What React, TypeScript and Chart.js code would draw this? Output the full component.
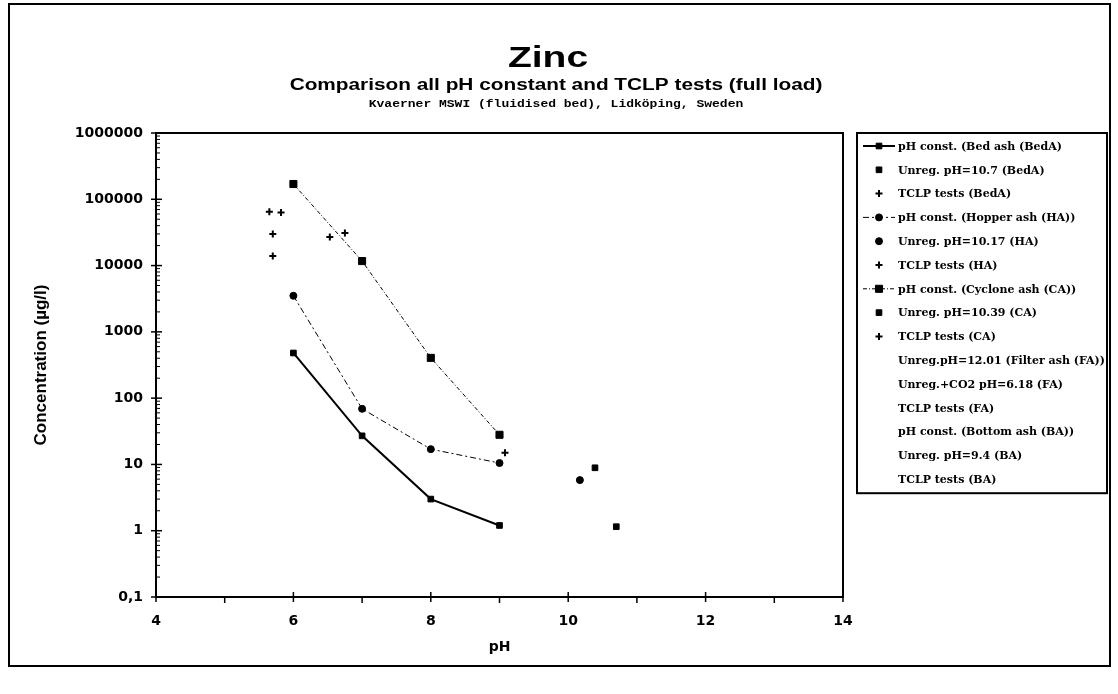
import React, { useEffect, useRef } from "react";
import { Chart, registerables } from "chart.js";
import { drawPoint } from "chart.js/helpers";

Chart.register(...registerables);

// ---- data (pH, concentration µg/l) ----
const bedConstPH = [6, 7, 8, 9];
const bedConstVal = [480, 27, 3.0, 1.2];
const bedUnregPH = [10.7];
const bedUnregVal = [1.15];
const bedTclpPH = [9.08];
const bedTclpVal = [15];

const haConstPH = [6, 7, 8, 9];
const haConstVal = [3500, 69, 17, 10.5];
const haUnregPH = [10.17];
const haUnregVal = [5.8];
const haTclpPH = [6.53, 6.75];
const haTclpVal = [27000, 31000];

const caConstPH = [6, 7, 8, 9];
const caConstVal = [170000, 11700, 405, 28];
const caUnregPH = [10.39];
const caUnregVal = [8.9];
const caTclpPH = [5.65, 5.82, 5.7, 5.7];
const caTclpVal = [65000, 63000, 30000, 14000];

const xTickValues = [4, 6, 8, 10, 12, 14];
const yTickValues = [0.1, 1, 10, 100, 1000, 10000, 100000, 1000000];
const yTickLabels = ["0,1", "1", "10", "100", "1000", "10000", "100000", "1000000"];

const legendLabels = [
  "pH const. (Bed ash (BedA)",
  "Unreg. pH=10.7 (BedA)",
  "TCLP tests (BedA)",
  "pH const. (Hopper ash (HA))",
  "Unreg. pH=10.17 (HA)",
  "TCLP tests (HA)",
  "pH const. (Cyclone ash (CA))",
  "Unreg. pH=10.39 (CA)",
  "TCLP tests (CA)",
  "Unreg.pH=12.01 (Filter ash (FA))",
  "Unreg.+CO2 pH=6.18 (FA)",
  "TCLP tests (FA)",
  "pH const. (Bottom ash (BA))",
  "Unreg. pH=9.4 (BA)",
  "TCLP tests (BA)",
];

const titleText = "Zinc";
const subtitleText = "Comparison all pH constant and TCLP tests (full load)";
const sourceText = "Kvaerner MSWI (fluidised bed), Lidköping, Sweden";

const pts = (xs: number[], ys: number[]) => xs.map((x, i) => ({ x, y: ys[i] }));

const SANS = "'DejaVu Sans', sans-serif";
const ARIAL = "'Liberation Sans', Arial, sans-serif";

function stretchedText(ctx: CanvasRenderingContext2D, text: string, cx: number, cy: number, font: string, sx: number) {
  ctx.save();
  ctx.translate(cx, cy);
  ctx.scale(sx, 1);
  ctx.font = font;
  ctx.textAlign = "center";
  ctx.textBaseline = "middle";
  ctx.fillText(text, 0, 0);
  ctx.restore();
}

const decorPlugin = {
  id: "decor",
  afterDraw(chart: any) {
    const ctx = chart.ctx as CanvasRenderingContext2D;
    const { left, right, top, bottom } = chart.chartArea;
    const xs = chart.scales.x;
    const ys = chart.scales.y;
    ctx.save();
    ctx.strokeStyle = "#000";
    ctx.fillStyle = "#000";

    // outer frame
    ctx.lineWidth = 2;
    ctx.strokeRect(9, 4, 1101, 662);

    // plot box
    ctx.lineWidth = 2;
    ctx.strokeRect(left, top, right - left, bottom - top);

    // x ticks
    ctx.lineWidth = 1.5;
    for (let v = 4; v <= 14; v++) {
      const px = xs.getPixelForValue(v);
      ctx.beginPath();
      if (v % 2 === 0) {
        ctx.moveTo(px, bottom - 5);
        ctx.lineTo(px, bottom + 5);
      } else {
        ctx.moveTo(px, bottom);
        ctx.lineTo(px, bottom + 6);
      }
      ctx.stroke();
    }
    // y ticks
    for (let e = -1; e <= 6; e++) {
      const base = Math.pow(10, e);
      const py = ys.getPixelForValue(base);
      ctx.lineWidth = 1.5;
      ctx.beginPath();
      ctx.moveTo(left - 5, py);
      ctx.lineTo(left + 6, py);
      ctx.stroke();
      if (e < 6) {
        ctx.lineWidth = 1;
        for (let k = 2; k <= 9; k++) {
          const p = ys.getPixelForValue(k * base);
          ctx.beginPath();
          ctx.moveTo(left, p);
          ctx.lineTo(left + 4, p);
          ctx.stroke();
        }
      }
    }

    // titles
    ctx.fillStyle = "#000";
    stretchedText(ctx, titleText, 548, 59, `bold 30px ${ARIAL}`, 1.3);
    stretchedText(ctx, subtitleText, 556, 86, `bold 16px ${ARIAL}`, 1.3);
    stretchedText(ctx, sourceText, 556, 104, `bold 10px 'Liberation Mono', 'DejaVu Sans Mono', monospace`, 1.3);

    // legend
    const bx0 = 857, by0 = 133, bx1 = 1107;
    const rowY0 = 146, rowH = 23.8;
    const n = chart.data.datasets.length;
    const by1 = rowY0 + (n - 1) * rowH + 14;
    ctx.lineWidth = 2;
    ctx.strokeRect(bx0, by0, bx1 - bx0, by1 - by0);
    ctx.textAlign = "left";
    ctx.textBaseline = "middle";
    ctx.font = `bold 11px 'DejaVu Serif', serif`;
    chart.data.datasets.forEach((ds: any, i: number) => {
      const y = rowY0 + i * rowH;
      const lx0 = 863, lx1 = 895, mx = 879;
      if (ds.showLine) {
        ctx.save();
        ctx.lineWidth = ds.borderWidth;
        ctx.setLineDash(ds.borderDash || []);
        ctx.beginPath();
        ctx.moveTo(lx0, y);
        ctx.lineTo(lx1, y);
        ctx.stroke();
        ctx.restore();
      }
      if (ds.pointRadius > 0) {
        ctx.save();
        ctx.fillStyle = "#000";
        ctx.strokeStyle = "#000";
        ctx.lineWidth = ds.pointBorderWidth || 1;
        drawPoint(ctx, { pointStyle: ds.pointStyle, radius: ds.pointRadius, rotation: 0, borderWidth: ds.pointBorderWidth || 1 } as any, mx, y);
        ctx.restore();
      }
      ctx.fillStyle = "#000";
      ctx.fillText(ds.label, 898, y + 1);
    });
    ctx.restore();
  },
};

export default function App() {
  const canvasRef = useRef<HTMLCanvasElement | null>(null);

  useEffect(() => {
    const canvas = canvasRef.current;
    if (!canvas) return;
    const black = "#000";
    const lineDs = (label: string, data: any[], dash: number[], width: number, style: string, r: number) => ({
      label,
      data,
      showLine: true,
      borderColor: black,
      backgroundColor: black,
      pointBackgroundColor: black,
      pointBorderColor: black,
      borderWidth: width,
      borderDash: dash,
      pointStyle: style,
      pointRadius: r,
      pointBorderWidth: 1,
      tension: 0,
    });
    const pointDs = (label: string, data: any[], style: string, r: number, bw: number) => ({
      label,
      data,
      showLine: false,
      borderColor: black,
      backgroundColor: black,
      pointBackgroundColor: black,
      pointBorderColor: black,
      borderWidth: bw,
      pointStyle: style,
      pointRadius: r,
      pointBorderWidth: bw,
    });

    const chart = new Chart(canvas, {
      type: "line",
      data: {
        datasets: [
          lineDs(legendLabels[0], pts(bedConstPH, bedConstVal), [], 2, "rect", 4),
          pointDs(legendLabels[1], pts(bedUnregPH, bedUnregVal), "rect", 4, 1),
          pointDs(legendLabels[2], pts(bedTclpPH, bedTclpVal), "cross", 3.5, 2),
          lineDs(legendLabels[3], pts(haConstPH, haConstVal), [6, 3, 2, 3], 1, "circle", 3.5),
          pointDs(legendLabels[4], pts(haUnregPH, haUnregVal), "circle", 3.5, 1),
          pointDs(legendLabels[5], pts(haTclpPH, haTclpVal), "cross", 3.5, 2),
          lineDs(legendLabels[6], pts(caConstPH, caConstVal), [4, 2, 1, 2], 1, "rect", 5),
          pointDs(legendLabels[7], pts(caUnregPH, caUnregVal), "rect", 4, 1),
          pointDs(legendLabels[8], pts(caTclpPH, caTclpVal), "cross", 3.5, 2),
          pointDs(legendLabels[9], [], "circle", 0, 0),
          pointDs(legendLabels[10], [], "circle", 0, 0),
          pointDs(legendLabels[11], [], "circle", 0, 0),
          pointDs(legendLabels[12], [], "circle", 0, 0),
          pointDs(legendLabels[13], [], "circle", 0, 0),
          pointDs(legendLabels[14], [], "circle", 0, 0),
        ] as any,
      },
      options: {
        responsive: false,
        animation: false,
        layout: { padding: { left: 0, top: 133, right: 275, bottom: 30 } },
        plugins: {
          legend: { display: false },
          tooltip: { enabled: false },
          title: { display: false },
        },
        scales: {
          x: {
            type: "linear",
            min: 4,
            max: 14,
            afterBuildTicks: (s: any) => {
              s.ticks = xTickValues.map((v) => ({ value: v }));
            },
            afterFit: (s: any) => {
              s.height = 67;
            },
            ticks: {
              padding: 16,
              color: black,
              font: { family: SANS, weight: "bold", size: 14 },
              callback: (v: any) => String(v),
            },
            grid: { display: false, drawTicks: false, tickLength: 0 },
            border: { display: false },
            title: {
              display: true,
              text: "pH",
              color: black,
              font: { family: SANS, weight: "bold", size: 14 },
              padding: { top: 0, bottom: 8 },
            },
          },
          y: {
            type: "logarithmic",
            min: 0.1,
            max: 1000000,
            afterBuildTicks: (s: any) => {
              s.ticks = yTickValues.map((v) => ({ value: v }));
            },
            afterFit: (s: any) => {
              s.width = 156;
            },
            ticks: {
              autoSkip: false,
              padding: 13,
              color: black,
              font: { family: SANS, weight: "bold", size: 14 },
              callback: (v: any) => {
                const idx = yTickValues.findIndex((t) => Math.abs(Math.log10(t) - Math.log10(v)) < 1e-9);
                return idx >= 0 ? yTickLabels[idx] : "";
              },
            },
            grid: { display: false, drawTicks: false, tickLength: 0 },
            border: { display: false },
            title: {
              display: true,
              text: "Concentration (µg/l)",
              color: black,
              font: { family: ARIAL, weight: "bold", size: 17 },
              padding: { top: 31, bottom: 0 },
            },
          },
        },
      } as any,
      plugins: [decorPlugin],
    });
    return () => chart.destroy();
  }, []);

  return (
    <div style={{ position: "absolute", left: 0, top: 0, width: 1118, height: 694, background: "#fff" }}>
      <canvas ref={canvasRef} width={1118} height={694} style={{ display: "block", width: 1118, height: 694 }} />
    </div>
  );
}
